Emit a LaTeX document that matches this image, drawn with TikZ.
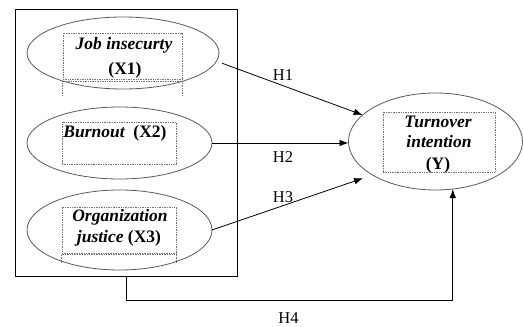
\documentclass[tikz,border=0pt]{standalone}
\usepackage{fontspec}
\setmainfont{Liberation Serif}
\usetikzlibrary{shapes.geometric,arrows.meta,calc}
\begin{document}
\begin{tikzpicture}[x=1pt,y=1pt,
  oval/.style={ellipse,draw=black!65,line width=0.8pt,inner sep=0pt,outer sep=0pt},
  dotbox/.style={draw=black!55,densely dotted,line width=0.7pt,inner sep=0pt},
  frame/.style={draw=black,line width=0.9pt,inner sep=0pt,outer sep=0pt},
  bi/.style={font=\fontsize{17.5}{20}\selectfont\bfseries\itshape,inner sep=0pt,anchor=base},
  hl/.style={font=\fontsize{16.5}{19}\selectfont,inner sep=0pt,anchor=base},
  arr/.style={draw=black,line width=0.8pt,-{Latex[length=9pt,width=6.5pt]}}]
\useasboundingbox (0,0) rectangle (523,327);
% outer frame
\node[frame,minimum width=222pt,minimum height=266.5pt] (box) at (126,184.25) {};
% dotted text boxes
\node[dotbox,minimum width=119pt,minimum height=46pt] (b1) at (122.5,271) {};
\node[dotbox,minimum width=114pt,minimum height=42pt] (b2) at (119,184) {};
\node[dotbox,minimum width=114pt,minimum height=46pt] (b3) at (119,97) {};
\node[dotbox,minimum width=112pt,minimum height=60pt] (by) at (439,185) {};
\draw[dotbox] ([yshift=-2pt]b1.south west) -- ++(0,-15);
\draw[dotbox] ([yshift=-2pt]b1.south east) -- ++(0,-15);
\draw[dotbox] ([yshift=-2pt]b1.south west) -- ([yshift=-2pt]b1.south east);
\draw[dotbox] ([yshift=-1.5pt]b3.south west) -- ++(0,-8);
\draw[dotbox] ([yshift=-1.5pt]b3.south east) -- ++(0,-8);
\draw[dotbox] ([yshift=-1.5pt]b3.south west) -- ([yshift=-1.5pt]b3.south east);
% ellipses
\node[oval,minimum width=192pt,minimum height=72pt] (e1) at (123,274) {};
\node[oval,minimum width=185pt,minimum height=72pt] (e2) at (119.5,184) {};
\node[oval,minimum width=185pt,minimum height=80pt] (e3) at (119.5,97) {};
\node[oval,minimum width=174pt,minimum height=97pt] (y) at (435.5,185.5) {};
% texts
\node[bi] (t1a) at (124,277.7) {Job insecurty};
\node[bi,font=\fontsize{17.5}{20}\selectfont\bfseries] (t1b) at (125,252) {(X1)};
\node[bi] (t2) at (115,189) {Burnout\ \ \upshape(X2)};
\node[bi] (t3a) at (120,105.3) {Organization};
\node[bi] (t3b) at (119,84.7) {justice \upshape(X3)};
\node[bi] (tya) at (438,199.7) {Turnover};
\node[bi] (tyb) at (439,179.7) {intention};
\node[bi,font=\fontsize{17.5}{20}\selectfont\bfseries] (tyc) at (438,157.7) {(Y)};
% connectors
\draw[arr,shorten <=6pt] (e1.-5) -- (y.160.6);
\draw[arr] (e2.east) -- (e2.east -| y.west);
\draw[arr,shorten >=10pt] (e3.east) -- (y.208);
\draw[arr] (box.south) -- ++(0,-24) -| (y.-70);
% labels
\node[hl] (h1) at (283,246.3) {H1};
\node[hl] (h2) at (283,164.3) {H2};
\node[hl] (h3) at (283,124.3) {H3};
\node[hl] (h4) at (288.5,3) {H4};
\end{tikzpicture}
\end{document}
